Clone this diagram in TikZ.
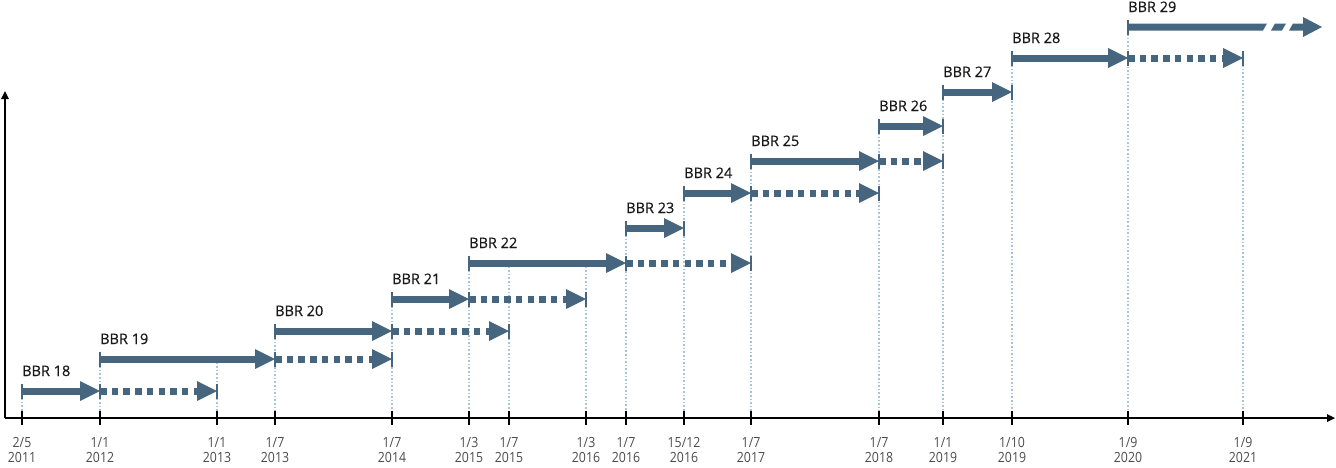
\documentclass[tikz,border=0pt]{standalone}
\usepackage{fontspec}
\setmainfont{Open Sans}
\newfontfamily\axisfont[FakeStretch=0.88]{Open Sans}
\newfontfamily\lblfont[FakeBold=0.35]{Open Sans}
\usetikzlibrary{arrows.meta}
\definecolor{barc}{RGB}{70,101,126}
\definecolor{guidec}{RGB}{168,196,218}
\begin{document}
\begin{tikzpicture}[x=1pt,y=-1pt,
  solidbar/.style={draw=barc, line width=7pt, -{Triangle[length=20pt,width=20pt,line width=0pt]}},
  dotbar/.style={solidbar, dash pattern=on 6.5pt off 5.2pt},
  bartick/.style={draw=barc, line width=2pt},
  guide/.style={draw=guidec, line width=1.6pt, dash pattern=on 1.6pt off 2pt},
  axisline/.style={draw=black, line width=1.8pt, -{Triangle[length=8pt,width=8pt,line width=0pt]}},
  axtick/.style={draw=black, line width=2pt},
  lbl/.style={anchor=base west, inner sep=0pt, font=\lblfont\fontsize{14.5}{17}\selectfont, text=black!90},
  dlbl/.style={anchor=north, inner sep=0pt, align=center, font=\axisfont\fontsize{14}{15}\selectfont, text=black!70}]
\useasboundingbox (0,0) rectangle (1336,467);

% axis tick positions
\coordinate (a1) at (22,418);
\coordinate (a2) at (100,418);
\coordinate (a3) at (217,418);
\coordinate (a4) at (275,418);
\coordinate (a5) at (392,418);
\coordinate (a6) at (469,418);
\coordinate (a7) at (509,418);
\coordinate (a8) at (586,418);
\coordinate (a9) at (626,418);
\coordinate (a10) at (684,418);
\coordinate (a11) at (751,418);
\coordinate (a12) at (879,418);
\coordinate (a13) at (943,418);
\coordinate (a14) at (1012,418);
\coordinate (a15) at (1128,418);
\coordinate (a16) at (1243,418);

% bar end points
\coordinate (s18) at (22,391);   \coordinate (e18) at (100,391);  \coordinate (d18) at (217,391);
\coordinate (s19) at (100,359);  \coordinate (e19) at (275,359);  \coordinate (d19) at (392,359);
\coordinate (s20) at (275,331);  \coordinate (e20) at (392,331);  \coordinate (d20) at (509,331);
\coordinate (s21) at (392,299);  \coordinate (e21) at (469,299);  \coordinate (d21) at (586,299);
\coordinate (s22) at (469,263);  \coordinate (e22) at (626,263);  \coordinate (d22) at (751,263);
\coordinate (s23) at (626,228);  \coordinate (e23) at (684,228);
\coordinate (s24) at (684,193);  \coordinate (e24) at (751,193);  \coordinate (d24) at (879,193);
\coordinate (s25) at (751,161);  \coordinate (e25) at (879,161);  \coordinate (d25) at (943,161);
\coordinate (s26) at (879,126);  \coordinate (e26) at (943,126);
\coordinate (s27) at (943,92);   \coordinate (e27) at (1012,92);
\coordinate (s28) at (1012,58);  \coordinate (e28) at (1128,58);  \coordinate (d28) at (1243,58);
\coordinate (s29) at (1128,27);
\coordinate (g3) at (217,359);
\coordinate (g7) at (509,263);
\coordinate (g8) at (586,263);

% guide lines
\draw[guide] (s18) -- (a1);
\draw[guide] (s19) -- (a2);
\draw[guide] (g3) -- (a3);
\draw[guide] (s20) -- (a4);
\draw[guide] (s21) -- (a5);
\draw[guide] (s22) -- (a6);
\draw[guide] (g7) -- (a7);
\draw[guide] (g8) -- (a8);
\draw[guide] (s23) -- (a9);
\draw[guide] (s24) -- (a10);
\draw[guide] (s25) -- (a11);
\draw[guide] (s26) -- (a12);
\draw[guide] (s27) -- (a13);
\draw[guide] (s28) -- (a14);
\draw[guide] (s29) -- (a15);
\draw[guide] (d28) -- (a16);

% axes
\coordinate (o) at (5,418);
\coordinate (ytop) at (5,91);
\coordinate (xend) at (1335,418);
\draw[axisline] (o) -- (ytop);
\draw[axisline] (o) -- (xend);
\foreach \i in {1,...,16} \draw[axtick] ([yshift=7.5pt]a\i) -- ([yshift=-7pt]a\i);

% axis labels
\node[dlbl] (t1) at ([yshift=-19pt]a1) {2/5\\2011};
\node[dlbl] (t2) at ([yshift=-19pt]a2) {1/1\\2012};
\node[dlbl] (t3) at ([yshift=-19pt]a3) {1/1\\2013};
\node[dlbl] (t4) at ([yshift=-19pt]a4) {1/7\\2013};
\node[dlbl] (t5) at ([yshift=-19pt]a5) {1/7\\2014};
\node[dlbl] (t6) at ([yshift=-19pt]a6) {1/3\\2015};
\node[dlbl] (t7) at ([yshift=-19pt]a7) {1/7\\2015};
\node[dlbl] (t8) at ([yshift=-19pt]a8) {1/3\\2016};
\node[dlbl] (t9) at ([yshift=-19pt]a9) {1/7\\2016};
\node[dlbl] (t10) at ([yshift=-19pt]a10) {15/12\\2016};
\node[dlbl] (t11) at ([yshift=-19pt]a11) {1/7\\2017};
\node[dlbl] (t12) at ([yshift=-19pt]a12) {1/7\\2018};
\node[dlbl] (t13) at ([yshift=-19pt]a13) {1/1\\2019};
\node[dlbl] (t14) at ([yshift=-19pt]a14) {1/10\\2019};
\node[dlbl] (t15) at ([yshift=-19pt]a15) {1/9\\2020};
\node[dlbl] (t16) at ([yshift=-19pt]a16) {1/9\\2021};

% bars
\draw[solidbar] (s18) -- (e18);  \draw[dotbar] (e18) -- (d18);
\draw[solidbar] (s19) -- (e19);  \draw[dotbar] (e19) -- (d19);
\draw[solidbar] (s20) -- (e20);  \draw[dotbar] (e20) -- (d20);
\draw[solidbar] (s21) -- (e21);  \draw[dotbar] (e21) -- (d21);
\draw[solidbar] (s22) -- (e22);  \draw[dotbar] (e22) -- (d22);
\draw[solidbar] (s23) -- (e23);
\draw[solidbar] (s24) -- (e24);  \draw[dotbar] (e24) -- (d24);
\draw[solidbar] (s25) -- (e25);  \draw[dotbar] (e25) -- (d25);
\draw[solidbar] (s26) -- (e26);
\draw[solidbar] (s27) -- (e27);
\draw[solidbar] (s28) -- (e28);  \draw[dotbar] (e28) -- (d28);
% BBR 29 open-ended bar with break
\begin{scope}[shift={(s29)}]
  \fill[barc] (0,-3.5) -- (139,-3.5) -- (135,3.5) -- (0,3.5) -- cycle;
  \fill[barc] (147,-3.5) -- (158,-3.5) -- (154,3.5) -- (143,3.5) -- cycle;
  \fill[barc] (165,-3.5) -- (175,-3.5) -- (175,-10) -- (194,0) -- (175,10) -- (175,3.5) -- (161,3.5) -- cycle;
\end{scope}

% bar ticks
\foreach \c in {s18,e18,d18,s19,e19,d19,s20,e20,d20,s21,e21,d21,s22,e22,d22,s23,e23,s24,e24,d24,s25,e25,d25,s26,e26,s27,e27,s28,e28,d28,s29}
  \draw[bartick] ([yshift=7.5pt]\c) -- ([yshift=-7.5pt]\c);

% bar labels
\node[lbl] (l18) at ([yshift=15pt]s18) {BBR 18};
\node[lbl] (l19) at ([yshift=15pt]s19) {BBR 19};
\node[lbl] (l20) at ([yshift=15pt]s20) {BBR 20};
\node[lbl] (l21) at ([yshift=15pt]s21) {BBR 21};
\node[lbl] (l22) at ([yshift=15pt]s22) {BBR 22};
\node[lbl] (l23) at ([yshift=15pt]s23) {BBR 23};
\node[lbl] (l24) at ([yshift=15pt]s24) {BBR 24};
\node[lbl] (l25) at ([yshift=15pt]s25) {BBR 25};
\node[lbl] (l26) at ([yshift=15pt]s26) {BBR 26};
\node[lbl] (l27) at ([yshift=15pt]s27) {BBR 27};
\node[lbl] (l28) at ([yshift=15pt]s28) {BBR 28};
\node[lbl] (l29) at ([yshift=15pt]s29) {BBR 29};
\end{tikzpicture}
\end{document}
